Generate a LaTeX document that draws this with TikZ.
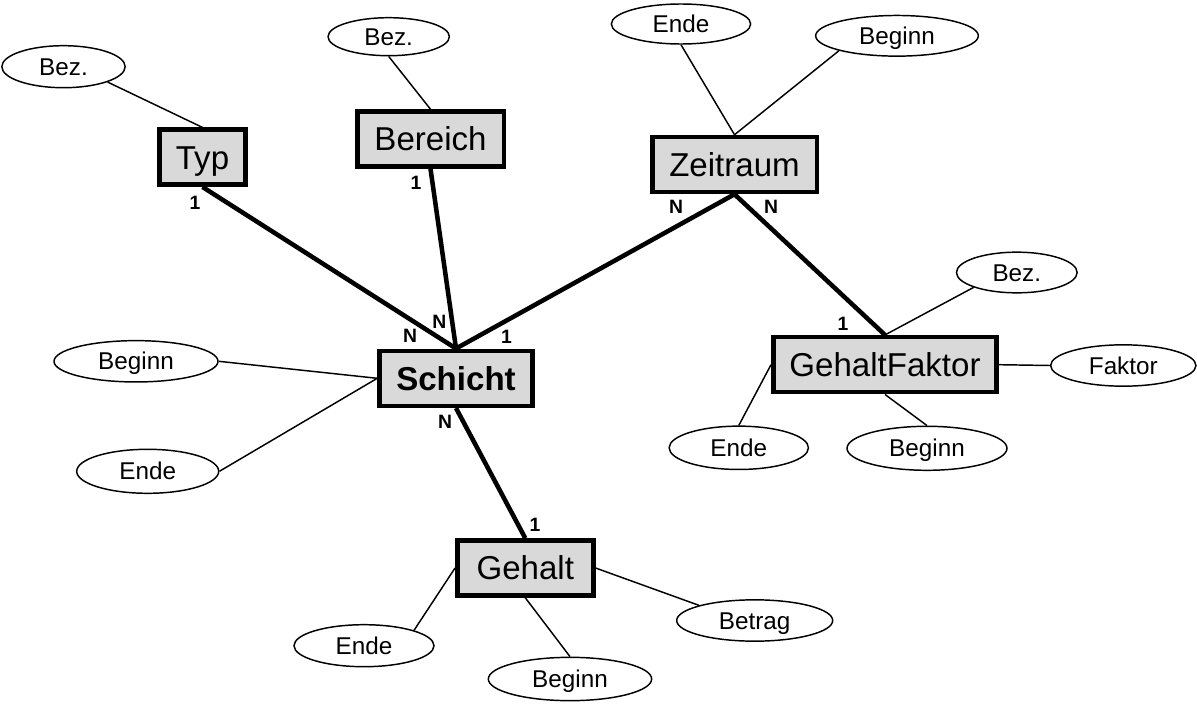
\documentclass[tikz,border=0pt]{standalone}
\usepackage{fontspec}
\setmainfont{Liberation Sans}
\usetikzlibrary{shapes.geometric}
\definecolor{entgray}{RGB}{217,217,217}
\tikzset{
  ent/.style={draw=black, line width=3.4pt, fill=entgray, inner sep=0pt,
    minimum height=41.25pt, font=\fontsize{24.8}{28}\selectfont,
    text height=17.8pt, text depth=0pt},
  attr/.style={draw=black, ellipse, line width=1.1pt, fill=white, inner sep=0pt,
    font=\fontsize{18.2}{21}\selectfont, text height=13pt, text depth=0pt},
  rel/.style={line width=3.4pt, draw=black},
  att/.style={line width=1.1pt, draw=black},
  card/.style={inner sep=0pt, font=\bfseries\fontsize{14.5}{17}\selectfont,
    text height=10.4pt, text depth=0pt}
}
\begin{document}
\begin{tikzpicture}[x=0.75pt,y=-0.75pt]
\useasboundingbox (0,0) rectangle (1197,710);
% entities
\node[ent, minimum width=64.5pt] (typ) at (202.5,157.2) {Typ};
\node[ent, minimum width=109.9pt] (bereich) at (430.5,139) {Bereich};
\node[ent, minimum width=123.4pt] (zeit) at (734.5,164.5) {Zeitraum};
\node[ent, minimum width=114.75pt, font=\bfseries\fontsize{24.8}{28}\selectfont] (schicht) at (456,378.3) {Schicht};
\node[ent, minimum width=167.6pt] (gf) at (885,364.7) {GehaltFaktor};
\node[ent, minimum width=102pt] (gehalt) at (525.3,568) {Gehalt};
% attributes
\node[attr, minimum width=92.5pt, minimum height=31.5pt] (bezT) at (63.5,66.7) {Bez.};
\node[attr, minimum width=91pt, minimum height=28.5pt] (bezB) at (388.7,36.7) {Bez.};
\node[attr, minimum width=104.5pt, minimum height=30pt] (endeZ) at (681,24) {Ende};
\node[attr, minimum width=122pt, minimum height=30.5pt] (beginnZ) at (897,35.8) {Beginn};
\node[attr, minimum width=90.5pt, minimum height=30.5pt] (bezG) at (1016.8,272.5) {Bez.};
\node[attr, minimum width=109pt, minimum height=31pt] (faktor) at (1123.3,365.5) {Faktor};
\node[attr, minimum width=104.5pt, minimum height=32.5pt] (endeG) at (738.8,447.8) {Ende};
\node[attr, minimum width=120pt, minimum height=33pt] (beginnG) at (927,448.3) {Beginn};
\node[attr, minimum width=123pt, minimum height=31pt] (beginnS) at (136,361.3) {Beginn};
\node[attr, minimum width=106.5pt, minimum height=33pt] (endeS) at (147.7,471.3) {Ende};
\node[attr, minimum width=105pt, minimum height=31.5pt] (endeH) at (364,645.7) {Ende};
\node[attr, minimum width=122.5pt, minimum height=32.5pt] (beginnH) at (570,679) {Beginn};
\node[attr, minimum width=117pt, minimum height=31pt] (betrag) at (754.7,620.5) {Betrag};
% relationships
\draw[rel] (typ.south) -- (schicht.north);
\draw[rel] (bereich.south) -- (schicht.north);
\draw[rel] (zeit.south) -- (schicht.north);
\draw[rel] (zeit.south) -- (gf.north);
\draw[rel] (schicht.south) -- (gehalt.north);
% attribute links
\draw[att] (bezT.south east) -- (typ.north);
\draw[att] (bezB.south) -- (bereich.north);
\draw[att] (endeZ.south) -- (zeit.north);
\draw[att] (beginnZ.south west) -- (zeit.north);
\draw[att] (bezG.south west) -- (gf.north);
\draw[att] (faktor.west) -- (gf.east);
\draw[att] (beginnG.north) -- (gf.south);
\draw[att] (endeG.north) -- (gf.west);
\draw[att] (beginnS.east) -- (schicht.west);
\draw[att] (endeS.east) -- (schicht.west);
\draw[att] (endeH.north east) -- (gehalt.west);
\draw[att] (beginnH.north) -- (gehalt.south);
\draw[att] (betrag.north west) -- (gehalt.east);
% cardinalities
\node[card] (c1) at (195,203) {1};
\node[card] (c2) at (416,182.5) {1};
\node[card] (c3) at (410,336) {N};
\node[card] (c4) at (439.3,322) {N};
\node[card] (c5) at (506.5,337) {1};
\node[card] (c6) at (445,421.7) {N};
\node[card] (c7) at (676,206.7) {N};
\node[card] (c8) at (771,206.7) {N};
\node[card] (c9) at (843,323.3) {1};
\node[card] (c10) at (535,525) {1};
\end{tikzpicture}
\end{document}
